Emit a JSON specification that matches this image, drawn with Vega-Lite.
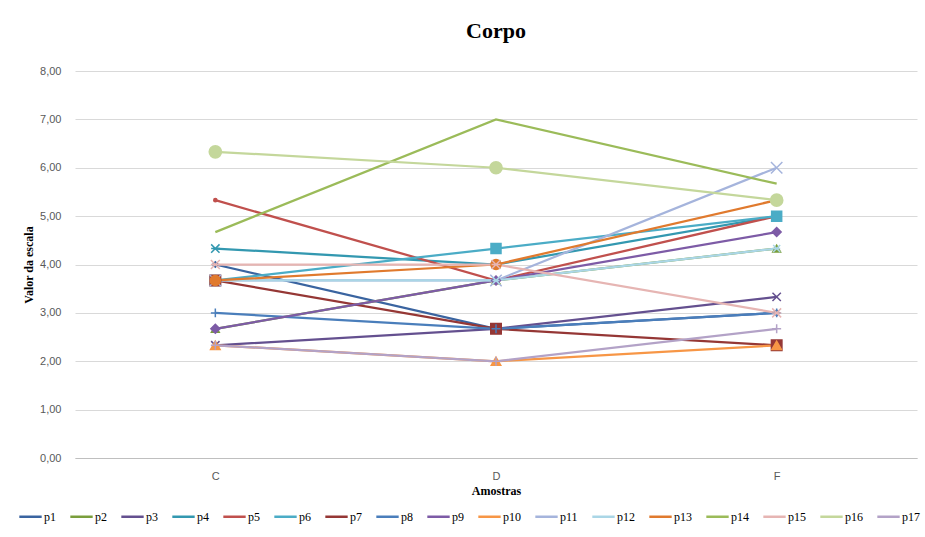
{
  "$schema": "https://vega.github.io/schema/vega-lite/v6.json",
  "autosize": "none",
  "width": 842,
  "height": 387,
  "padding": {"left": 75, "top": 71, "right": 8, "bottom": 79},
  "background": "white",
  "title": {
    "text": "Corpo",
    "font": "Liberation Serif",
    "fontSize": 22,
    "fontWeight": "bold",
    "color": "#000000",
    "anchor": "middle",
    "offset": 22
  },
  "data": {
    "values": [
      {"serie": "p1", "amostra": "C", "valor": 4.00}, {"serie": "p1", "amostra": "D", "valor": 2.67}, {"serie": "p1", "amostra": "F", "valor": 3.00},
      {"serie": "p2", "amostra": "C", "valor": 2.67}, {"serie": "p2", "amostra": "D", "valor": 3.67}, {"serie": "p2", "amostra": "F", "valor": 4.33},
      {"serie": "p3", "amostra": "C", "valor": 2.33}, {"serie": "p3", "amostra": "D", "valor": 2.67}, {"serie": "p3", "amostra": "F", "valor": 3.33},
      {"serie": "p4", "amostra": "C", "valor": 4.33}, {"serie": "p4", "amostra": "D", "valor": 4.00}, {"serie": "p4", "amostra": "F", "valor": 5.00},
      {"serie": "p5", "amostra": "C", "valor": 5.33}, {"serie": "p5", "amostra": "D", "valor": 3.67}, {"serie": "p5", "amostra": "F", "valor": 5.00},
      {"serie": "p6", "amostra": "C", "valor": 3.67}, {"serie": "p6", "amostra": "D", "valor": 4.33}, {"serie": "p6", "amostra": "F", "valor": 5.00},
      {"serie": "p7", "amostra": "C", "valor": 3.67}, {"serie": "p7", "amostra": "D", "valor": 2.67}, {"serie": "p7", "amostra": "F", "valor": 2.33},
      {"serie": "p8", "amostra": "C", "valor": 3.00}, {"serie": "p8", "amostra": "D", "valor": 2.67}, {"serie": "p8", "amostra": "F", "valor": 3.00},
      {"serie": "p9", "amostra": "C", "valor": 2.67}, {"serie": "p9", "amostra": "D", "valor": 3.67}, {"serie": "p9", "amostra": "F", "valor": 4.67},
      {"serie": "p10", "amostra": "C", "valor": 2.33}, {"serie": "p10", "amostra": "D", "valor": 2.00}, {"serie": "p10", "amostra": "F", "valor": 2.33},
      {"serie": "p11", "amostra": "C", "valor": 3.67}, {"serie": "p11", "amostra": "D", "valor": 3.67}, {"serie": "p11", "amostra": "F", "valor": 6.00},
      {"serie": "p12", "amostra": "C", "valor": 3.67}, {"serie": "p12", "amostra": "D", "valor": 3.67}, {"serie": "p12", "amostra": "F", "valor": 4.33},
      {"serie": "p13", "amostra": "C", "valor": 3.67}, {"serie": "p13", "amostra": "D", "valor": 4.00}, {"serie": "p13", "amostra": "F", "valor": 5.33},
      {"serie": "p14", "amostra": "C", "valor": 4.67}, {"serie": "p14", "amostra": "D", "valor": 7.00}, {"serie": "p14", "amostra": "F", "valor": 5.67},
      {"serie": "p15", "amostra": "C", "valor": 4.00}, {"serie": "p15", "amostra": "D", "valor": 4.00}, {"serie": "p15", "amostra": "F", "valor": 3.00},
      {"serie": "p16", "amostra": "C", "valor": 6.33}, {"serie": "p16", "amostra": "D", "valor": 6.00}, {"serie": "p16", "amostra": "F", "valor": 5.33},
      {"serie": "p17", "amostra": "C", "valor": 2.33}, {"serie": "p17", "amostra": "D", "valor": 2.00}, {"serie": "p17", "amostra": "F", "valor": 2.67}
    ]
  },
  "encoding": {
    "x": {
      "field": "amostra",
      "type": "ordinal",
      "title": "Amostras",
      "scale": {"type": "point", "padding": 0.5},
      "axis": {
        "labelAngle": 0,
        "labelPadding": 12,
        "ticks": false,
        "domainColor": "#bfbfbf",
        "titlePadding": 4
      }
    },
    "y": {
      "field": "valor",
      "type": "quantitative",
      "title": "Valor da escala",
      "scale": {"domain": [0, 8], "nice": false},
      "axis": {
        "values": [0, 1, 2, 3, 4, 5, 6, 7, 8],
        "format": ".2f",
        "domain": false,
        "ticks": false,
        "labelPadding": 14,
        "titlePadding": 4,
        "gridColor": "#d9d9d9"
      }
    }
  },
  "layer": [
    {
      "mark": {"type": "line", "strokeWidth": 2.25},
      "encoding": {
        "color": {
          "field": "serie",
          "type": "nominal",
          "sort": null,
          "scale": {
            "domain": ["p1","p2","p3","p4","p5","p6","p7","p8","p9","p10","p11","p12","p13","p14","p15","p16","p17"],
            "range": ["#3A64A0","#7A9E3C","#64508F","#3398B0","#C0504D","#4BACC6","#953735","#4A7EBB","#7D5BA6","#F79646","#A5B4DC","#AAD6E6","#E07A2E","#9BBB59","#E6B5B3","#C4D79B","#B3A2C7"]
          },
          "legend": {
            "orient": "none",
            "legendX": -57,
            "legendY": 433,
            "direction": "horizontal",
            "columns": 17,
            "title": null,
            "symbolType": "stroke",
            "symbolSize": 500,
            "symbolStrokeWidth": 2.5,
            "labelFont": "Liberation Serif",
            "labelFontSize": 12,
            "labelColor": "#000000",
            "labelOffset": 1,
            "columnPadding": 9
          }
        }
      }
    },
    {
      "transform": [{"filter": "datum.serie !== 'p14'"}],
      "mark": {"type": "point", "filled": true, "strokeWidth": 1.5, "opacity": 1},
      "encoding": {
        "fill": {
          "field": "serie",
          "type": "nominal",
          "legend": null,
          "scale": {
            "domain": ["p1","p2","p3","p4","p5","p6","p7","p8","p9","p10","p11","p12","p13","p15","p16","p17"],
            "range": ["#3A64A0","#7A9E3C","#64508F","#3398B0","#C0504D","#4BACC6","#953735","#4A7EBB","#7D5BA6","#F79646","#A5B4DC","#AAD6E6","#E07A2E","#E6B5B3","#C4D79B","#B3A2C7"]
          }
        },
        "stroke": {
          "field": "serie",
          "type": "nominal",
          "legend": null,
          "scale": {
            "domain": ["p1","p2","p3","p4","p5","p6","p7","p8","p9","p10","p11","p12","p13","p15","p16","p17"],
            "range": ["#3A64A0","#7A9E3C","#64508F","#3398B0","#C0504D","#4BACC6","#953735","#4A7EBB","#7D5BA6","#F79646","#A5B4DC","#AAD6E6","#E07A2E","#E6B5B3","#C4D79B","#B3A2C7"]
          }
        },
        "shape": {
          "field": "serie",
          "type": "nominal",
          "legend": null,
          "scale": {
            "domain": ["p1","p2","p3","p4","p5","p6","p7","p8","p9","p10","p11","p12","p13","p15","p16","p17"],
            "range": ["diamond","triangle-up","M-1,-1L1,1M-1,1L1,-1","M-1,-1L1,1M-1,1L1,-1M-1,0L1,0","circle","square","square","M-1,0L1,0M0,-1L0,1","diamond","triangle-up","M-1,-1L1,1M-1,1L1,-1","M-1,-1L1,1M-1,1L1,-1M-1,0L1,0","circle","M-1,-1L1,1M-1,1L1,-1M-1,0L1,0","circle","M-1,0L1,0M0,-1L0,1"]
          }
        },
        "size": {
          "field": "serie",
          "type": "nominal",
          "legend": null,
          "scale": {
            "type": "ordinal",
            "domain": ["p1","p2","p3","p4","p5","p6","p7","p8","p9","p10","p11","p12","p13","p15","p16","p17"],
            "range": [30, 60, 70, 70, 10, 100, 110, 80, 80, 90, 130, 50, 100, 80, 150, 80]
          }
        }
      }
    }
  ],
  "config": {
    "locale": {
      "number": {"decimal": ",", "thousands": ".", "grouping": [3], "currency": ["", ""]}
    },
    "view": {"stroke": null},
    "axis": {
      "labelFont": "Liberation Sans",
      "labelFontSize": 11,
      "labelColor": "#595959",
      "titleFont": "Liberation Serif",
      "titleFontSize": 12,
      "titleFontWeight": "bold",
      "titleColor": "#000000"
    }
  }
}
